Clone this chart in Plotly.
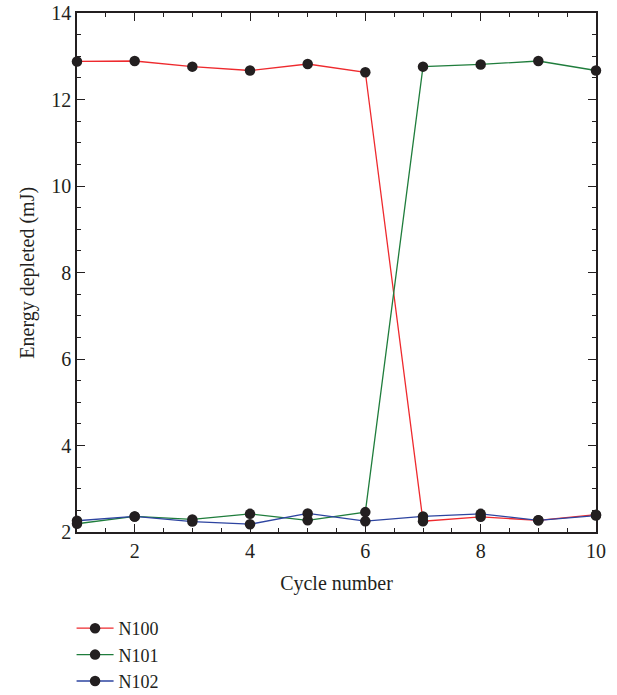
import plotly.graph_objects as go

cycles = [1, 2, 3, 4, 5, 6, 7, 8, 9, 10]
n100 = [12.88, 12.89, 12.76, 12.67, 12.82, 12.63, 2.25, 2.35, 2.27, 2.40]
n101 = [2.19, 2.36, 2.29, 2.42, 2.27, 2.46, 12.76, 12.81, 12.89, 12.67]
n102 = [2.26, 2.36, 2.24, 2.18, 2.43, 2.25, 2.36, 2.42, 2.27, 2.38]
names = ["N100", "N101", "N102"]
colors = ["#ee2a2e", "#1f7d3c", "#2d44a0"]

FONT = "Liberation Serif, Times New Roman, serif"
TXT = "#231f20"
FS = 20

fig = go.Figure()
for name, vals, col in zip(names, [n100, n101, n102], colors):
    fig.add_trace(go.Scatter(
        x=cycles, y=vals, name=name, mode="lines+markers",
        line=dict(color=col, width=1.3),
        marker=dict(color="#231f20", size=10.5),
        cliponaxis=False,
    ))

axis_common = dict(showgrid=False, zeroline=False, showline=True, linecolor=TXT,
                   linewidth=1.5, tickcolor=TXT, tickwidth=1.4, mirror="ticks",
                   ticks="inside", ticklen=8, tick0=0, dtick=2, automargin=False,
                   minor=dict(dtick=0.5, tick0=0, ticks="inside", ticklen=4,
                              tickcolor=TXT, tickwidth=1.2),
                   tickfont=dict(family=FONT, size=FS, color=TXT))

fig.update_layout(
    width=617, height=695,
    margin=dict(l=77, r=21, t=13, b=163, autoexpand=False),
    plot_bgcolor="white", paper_bgcolor="white",
    font=dict(family=FONT, size=FS, color=TXT),
    xaxis=dict(range=[1, 10],
               title=dict(text="Cycle number", font=dict(family=FONT, size=FS, color=TXT)),
               **axis_common),
    yaxis=dict(range=[2, 14], **axis_common),
    annotations=[dict(text="Energy depleted (mJ)", xref="paper", yref="paper",
                      x=-0.096, y=0.5, xanchor="center", yanchor="middle",
                      textangle=-90, showarrow=False,
                      font=dict(family=FONT, size=FS, color=TXT))],
    legend=dict(xref="container", yref="container", x=0.116, y=0.1223,
                xanchor="left", yanchor="top", bgcolor="rgba(0,0,0,0)",
                font=dict(family=FONT, size=18, color=TXT), tracegroupgap=0, itemwidth=37),
    showlegend=True,
)

fig.write_html("out.html", post_script="document.body.style.margin='0';",
               config={"displayModeBar": False})
